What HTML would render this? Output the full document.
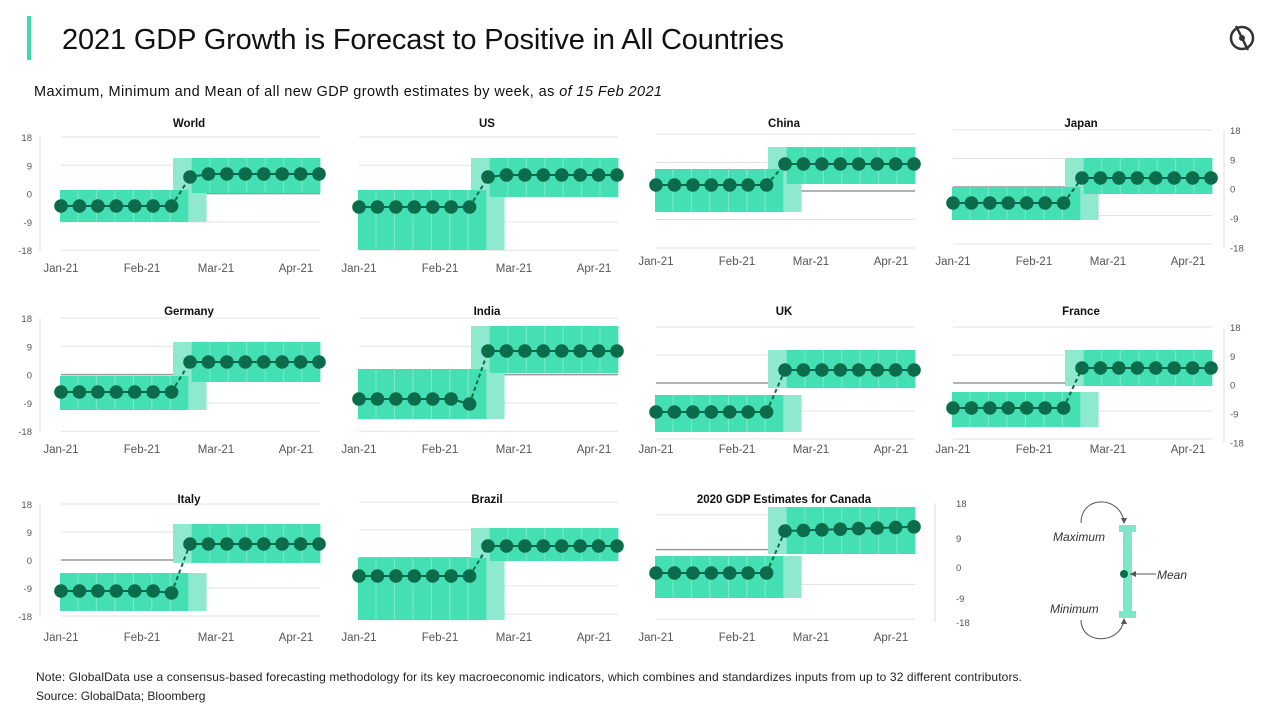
<!DOCTYPE html>
<html><head><meta charset="utf-8"><style>
body{margin:0;background:#fff;width:1279px;height:715px;overflow:hidden;font-family:"Liberation Sans",sans-serif}
</style></head><body>
<svg id="s" width="1279" height="715" xmlns="http://www.w3.org/2000/svg" font-family="Liberation Sans, sans-serif">
<rect x="27" y="16" width="4" height="44" fill="#3ddbb0"/>
<text x="62" y="49" font-size="29" fill="#111" textLength="722">2021 GDP Growth is Forecast to Positive in All Countries</text>
<text x="34" y="96" font-size="14.5" fill="#111" textLength="628">Maximum, Minimum and Mean of all new GDP growth estimates by week, as <tspan font-style="italic">of 15 Feb 2021</tspan></text>
<circle cx="1242" cy="38" r="11" fill="none" stroke="#333" stroke-width="2.5"/>
<line x1="1236" y1="26" x2="1248" y2="50" stroke="#333" stroke-width="2.5"/>
<circle cx="1242" cy="38" r="3" fill="#333"/>
<text x="36" y="681" font-size="12" fill="#222" textLength="986">Note: GlobalData use a consensus-based forecasting methodology for its key macroeconomic indicators, which combines and standardizes inputs from up to 32 different contributors.</text>
<text x="36" y="700" font-size="12" fill="#222">Source: GlobalData; Bloomberg</text>
<rect x="1119" y="525" width="17" height="7" fill="#7de8c9"/>
<rect x="1119" y="611" width="17" height="7" fill="#7de8c9"/>
<rect x="1123" y="525" width="9" height="93" fill="#7de8c9"/>
<circle cx="1124" cy="574" r="4" fill="#0b6b4b"/>
<line x1="1130" y1="574" x2="1156" y2="574" stroke="#555"/><path d="M1130 574 l6 -3 v6z" fill="#555"/>
<path d="M1081 523 C1081 495,1120 495,1124 522" fill="none" stroke="#555"/><path d="M1124 524 l-3 -6 h6z" fill="#555"/>
<path d="M1081 620 C1081 645,1120 645,1124 620" fill="none" stroke="#555"/><path d="M1124 618 l-3 6 h6z" fill="#555"/>
<text x="1053" y="541" font-size="12" font-style="italic" fill="#333">Maximum</text>
<text x="1050" y="613" font-size="12" font-style="italic" fill="#333">Minimum</text>
<text x="1157" y="579" font-size="12" font-style="italic" fill="#333">Mean</text>
<g id="charts"></g>
</svg>
<script>
var P=[
{n:"World",ox:0,ty:127,T:137,s:28.3,lab:"L",xl:272,lo:206,hi:174,d8:177,bl:[190,222],bh:[158,193]},
{n:"US",ox:298,ty:127,T:137,s:28.3,lab:"N",xl:272,lo:207,hi:175,d8:177,bl:[190,250],bh:[158,197]},
{n:"China",ox:595,ty:127,T:134,s:28.5,lab:"N",xl:265,lo:185,hi:164,d8:164,bl:[169,212],bh:[147,184]},
{n:"Japan",ox:892,ty:127,T:130,s:28.5,lab:"R",xl:265,lo:203,hi:178,d8:178,bl:[187,220],bh:[158,194]},
{n:"Germany",ox:0,ty:315,T:318,s:28.3,lab:"L",xl:453,lo:392,hi:362,d8:362,bl:[376,410],bh:[342,382]},
{n:"India",ox:298,ty:315,T:318,s:28.3,lab:"N",xl:453,lo:399,hi:351,d8:351,bl:[369,419],bh:[326,373]},
{n:"UK",ox:595,ty:315,T:327,s:28,lab:"N",xl:453,lo:412,hi:370,d8:370,bl:[395,432],bh:[350,388]},
{n:"France",ox:892,ty:315,T:327,s:28,lab:"R",xl:453,lo:408,hi:368,d8:368,bl:[392,427],bh:[350,386]},
{n:"Italy",ox:0,ty:503,T:504,s:28,lab:"L",xl:641,lo:591,hi:544,d8:544,bl:[573,611],bh:[524,563]},
{n:"Brazil",ox:298,ty:503,T:502,s:28,lab:"N",xl:641,lo:576,hi:546,d8:546,bl:[558,620],bh:[528,561]},
{n:"2020 GDP Estimates for Canada",ox:595,ty:503,T:480,s:34.8,lab:"C",xl:641,lo:573,hi:529,d8:531,bl:[556,598],bh:[507,554]}
];
var g="";
P.forEach(function(p){
 var ox=p.ox,x1=ox+320;
 var cx=ox+189;
 for(var i=0;i<5;i++){var y=p.T+i*p.s;if(p.lab=="C"&&i==0)continue;
  g+='<line x1="'+(ox+61)+'" x2="'+x1+'" y1="'+y+'" y2="'+y+'" stroke="'+(i==2?'#999':'#e3e3e3')+'" stroke-width="'+(i==2?1.5:1)+'"/>';}
 var dx=[];for(var i=0;i<15;i++)dx.push(ox+61+i*18.43);
 var lh=p.bl[1]-p.bl[0], hh=p.bh[1]-p.bh[0];
 g+='<rect x="'+(dx[6]+17)+'" y="'+p.bl[0]+'" width="18" height="'+lh+'" fill="#8fe9cf"/>';
 g+='<rect x="'+(dx[7]-17)+'" y="'+p.bh[0]+'" width="18" height="'+hh+'" fill="#8fe9cf"/>';
 for(var i=0;i<7;i++)g+='<rect x="'+(dx[i]-1)+'" y="'+p.bl[0]+'" width="18.4" height="'+lh+'" fill="#45dfb4"/>';
 for(var i=8;i<15;i++)g+='<rect x="'+(dx[i]-17)+'" y="'+p.bh[0]+'" width="18.4" height="'+hh+'" fill="#45dfb4"/>';
 for(var i=0;i<7;i++)g+='<line x1="'+(dx[i]+17)+'" x2="'+(dx[i]+17)+'" y1="'+p.bl[0]+'" y2="'+p.bl[1]+'" stroke="#7ae8c8"/>';
 for(var i=8;i<15;i++)g+='<line x1="'+(dx[i]-17)+'" x2="'+(dx[i]-17)+'" y1="'+p.bh[0]+'" y2="'+p.bh[1]+'" stroke="#7ae8c8"/>';
 g+='<text x="'+cx+'" y="'+p.ty+'" font-size="11.5" font-weight="bold" text-anchor="middle" fill="#111">'+p.n+'</text>';
 var ly=p.xl;
 [["Jan-21",ox+61],["Feb-21",ox+142],["Mar-21",ox+216],["Apr-21",ox+296]].forEach(function(l){
  g+='<text x="'+l[1]+'" y="'+ly+'" font-size="11.5" text-anchor="middle" fill="#555">'+l[0]+'</text>';});
 var vals=["18","9","0","-9","-18"];
 if(p.lab=="L"){for(var i=0;i<5;i++){var y=p.T+i*p.s+4;g+='<text x="'+(ox+32)+'" y="'+y+'" font-size="9.5" text-anchor="end" fill="#555">'+vals[i]+'</text>';}
  g+='<line x1="'+(ox+40)+'" x2="'+(ox+40)+'" y1="'+p.T+'" y2="'+(p.T+4*p.s)+'" stroke="#ddd"/>';}
 if(p.lab=="R"){for(var i=0;i<5;i++){var y=p.T+i*p.s*1.03+4;g+='<text x="'+(ox+338)+'" y="'+y+'" font-size="9.5" fill="#555">'+vals[i]+'</text>';}
  g+='<line x1="'+(ox+332)+'" x2="'+(ox+332)+'" y1="'+p.T+'" y2="'+(p.T+4*p.s*1.03)+'" stroke="#ddd"/>';}
 if(p.lab=="C"){var yy=[503,538,567,598,622];for(var i=0;i<5;i++)g+='<text x="'+(ox+361)+'" y="'+(yy[i]+4)+'" font-size="9.5" fill="#555">'+vals[i]+'</text>';
  g+='<line x1="'+(ox+340)+'" x2="'+(ox+340)+'" y1="503" y2="622" stroke="#ddd"/>';}
 var ys=[];for(var i=0;i<15;i++)ys.push(i<7?p.lo:(i==7?p.d8:p.hi));
 if(p.n=="India")ys[6]=p.lo+5; if(p.n=="Italy")ys[6]=p.lo+2;
 if(p.lab=="C"){for(var i=7;i<15;i++)ys[i]=531-(i-7)*0.6;}
 g+='<polyline points="'+dx.slice(0,7).map(function(x,i){return x+','+ys[i]}).join(' ')+'" fill="none" stroke="#0b6b4b" stroke-width="2"/>';
 g+='<line x1="'+dx[6]+'" y1="'+ys[6]+'" x2="'+dx[7]+'" y2="'+ys[7]+'" stroke="#0b6b4b" stroke-width="2" stroke-dasharray="4,3"/>';
 g+='<polyline points="'+dx.slice(7).map(function(x,i){return x+','+ys[i+7]}).join(' ')+'" fill="none" stroke="#0b6b4b" stroke-width="2"/>';
 for(var i=0;i<15;i++)g+='<circle cx="'+dx[i]+'" cy="'+ys[i]+'" r="6.8" fill="#0b6b4b"/>';
});
document.getElementById("charts").innerHTML=g;
</script>
</body></html>
